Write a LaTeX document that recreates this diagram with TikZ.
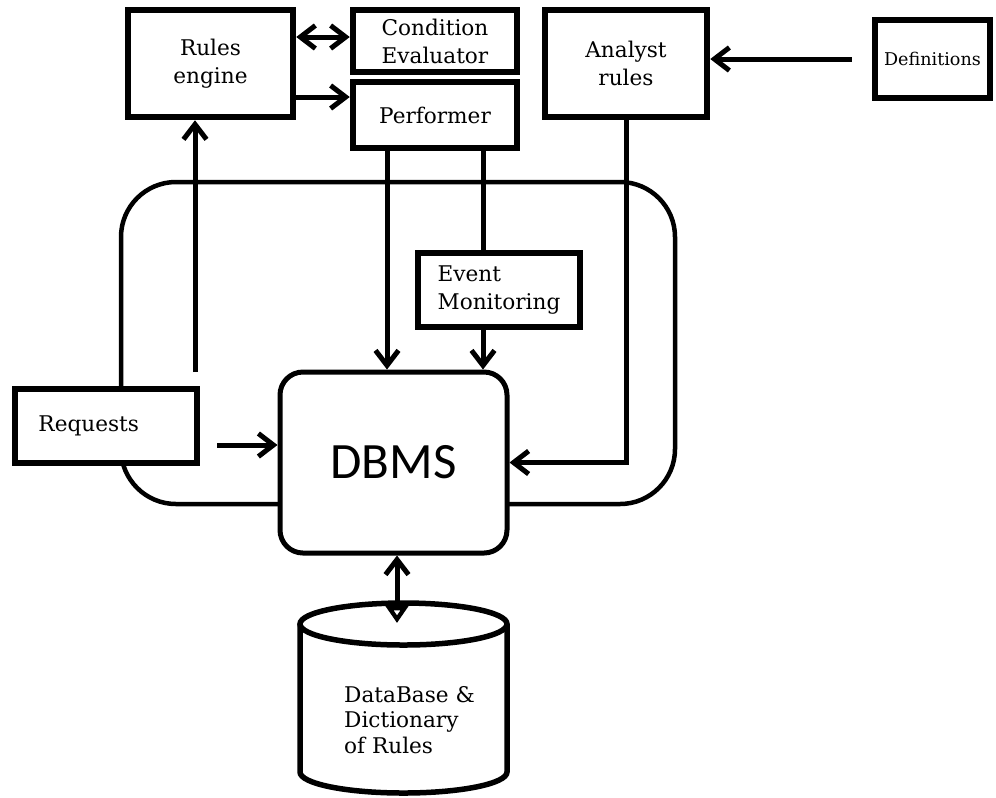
\documentclass[tikz,border=0pt]{standalone}
\usepackage{fontspec}
\setmainfont{DejaVu Serif}
\newfontfamily\dbmsfont{Carlito}
\usetikzlibrary{arrows.meta,positioning,calc}

\tikzset{
	block/.style={draw, line width=1.3mm, fill=white, align=center, inner sep=1mm,
		font=\fontsize{12.3}{16}\selectfont},
	flow/.style={line width=1mm, -{Straight Barb[length=3mm,width=4.6mm]}},
	biflow/.style={line width=1mm, {Straight Barb[length=3mm,width=4.6mm]}-{Straight Barb[length=3mm,width=4.6mm]}},
	plain/.style={line width=1mm},
}

\begin{document}
\begin{tikzpicture}[x=0.2mm,y=0.2mm]
	\useasboundingbox (0,0) rectangle (996,-797);
	% outer loop round the DBMS
	\draw[line width=0.9mm, rounded corners=11mm] (121,-182) rectangle (675,-504);
	%
	\node[block, minimum width=33mm, minimum height=21.4mm] (rules) at (210.5,-63.5) {Rules\\engine};
	\node[block, minimum width=32.8mm, minimum height=12.4mm] (cond) at (435,-41) {Condition\\Evaluator};
	\node[block, minimum width=32.8mm, minimum height=13.2mm] (perf) at (435,-115) {Performer};
	\node[block, minimum width=32.4mm, minimum height=21.4mm] (analyst) at (626,-63.5) {Analyst\\rules};
	\node[block, minimum width=23mm, minimum height=15.6mm, font=\fontsize{10}{12}\selectfont] (defs) at (932.5,-59) {Definitions};
	\node[block, align=left, minimum width=32.4mm, minimum height=14.8mm] (event) at (499,-290) {Event\\Monitoring};
	\node[block, align=left, text width=27mm, inner xsep=4.7mm, minimum height=14.8mm] (req) at (106,-426) {Requests};
	\node[draw, line width=1mm, fill=white, rounded corners=4.6mm, minimum width=45.4mm, minimum height=36.2mm,
		font=\dbmsfont\fontsize{29}{34}\selectfont] (dbms) at (393.5,-462.5) {DBMS};
	% database cylinder
	\draw[line width=1.1mm, fill=white] (300,-624) -- (300,-772)
		arc[start angle=180, end angle=360, x radius=20.7mm, y radius=4.2mm] -- (507,-624);
	\draw[line width=1.1mm] (403.5,-624) ellipse[x radius=20.7mm, y radius=4.2mm];
	\node[align=left, anchor=west, font=\fontsize{12.3}{14.5}\selectfont] (dbtext) at (338,-720) {DataBase \&\\Dictionary\\of Rules};
	%
	\coordinate (ce) at ([yshift=0.8mm]cond.west);
	\coordinate (pin) at ([yshift=3.6mm]perf.west);
	\coordinate (pl) at ([xshift=-9.6mm]perf.south);
	\coordinate (pr) at ([xshift=9.6mm]perf.south);
	\coordinate (dd) at ([xshift=-4mm]defs.west);
	\coordinate (ru) at (195,-372);
	\coordinate (ri) at (217,-445);
	\coordinate (dbtop) at (397,-623);
	%
	\draw[biflow] (rules.east |- ce) -- (ce);
	\draw[flow] (rules.east |- pin) -- (pin);
	\draw[flow] (ru) -- (ru |- rules.south);
	\draw[flow] (ri) -- (ri -| dbms.west);
	\draw[flow] (pl) -- (pl |- dbms.north);
	\draw[plain] (pr) -- (pr |- event.north);
	\draw[flow] (pr |- event.south) -- (pr |- dbms.north);
	\draw[flow] (analyst.south) |- (dbms.east);
	\draw[flow] (dd) -- (dd -| analyst.east);
	\draw[line width=1mm, {Straight Barb[length=3mm,width=4.6mm]}-{Triangle[open,length=3.4mm,width=4.4mm]}]
		(dbms.south -| dbtop) -- (dbtop);
\end{tikzpicture}
\end{document}
